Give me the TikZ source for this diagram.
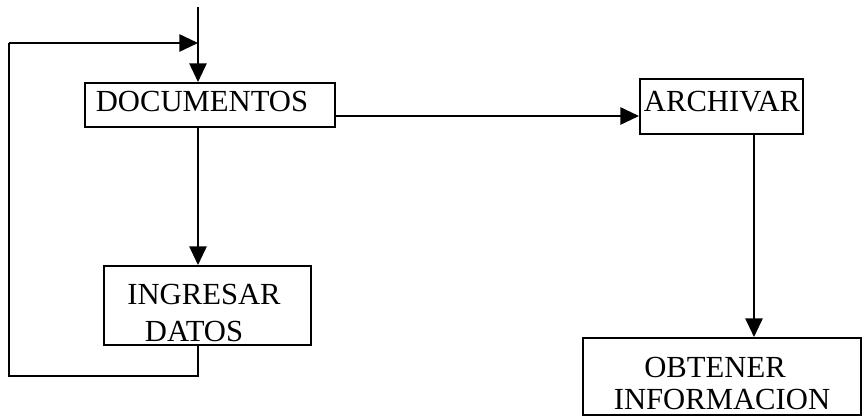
\documentclass[tikz,border=0pt]{standalone}
\usepackage{fontspec}
\setmainfont{Liberation Serif}
\usetikzlibrary{arrows.meta}
\begin{document}
\begin{tikzpicture}[x=0.75pt,y=-0.75pt,
  box/.style={draw,line width=1.6pt,rectangle,inner sep=0pt,anchor=north west},
  lbl/.style={anchor=base,inner sep=0pt,font=\fontsize{23pt}{27pt}\selectfont},
  conn/.style={line width=1.3pt},
  arr/.style={conn,-{Triangle[length=14pt,width=13pt]}}]
\useasboundingbox (0,0) rectangle (866,416);
% boxes
\node[box,minimum width=250*0.75pt,minimum height=44*0.75pt] (doc) at (84,82) {};
\node[box,minimum width=163*0.75pt,minimum height=55*0.75pt] (arch) at (639,78) {};
\node[box,minimum width=207*0.75pt,minimum height=79*0.75pt] (ing) at (103,265) {};
\node[box,minimum width=278*0.75pt,minimum height=77*0.75pt] (obt) at (582,337) {};
% labels
\node[lbl] (tdoc) at (202,112) {DOCUMENTOS};
\node[lbl] (tarch) at (722,112) {ARCHIVAR};
\node[lbl] (ting1) at (204,305) {INGRESAR};
\node[lbl] (ting2) at (194,341) {DATOS};
\node[lbl] (tobt1) at (715,377) {OBTENER};
\node[lbl] (tobt2) at (722,409) {INFORMACION};
% coordinates
\coordinate (top) at (198,7);
\coordinate (fbA) at (198,376);
\coordinate (fbB) at (9,376);
\coordinate (fbC) at (9,43);
\coordinate (fbD) at (198,43);
\coordinate (hy) at (0,116);
\coordinate (ax) at (754,0);
% connectors
\draw[arr] (top) -- (doc.north -| top);
\draw[arr] (doc.south -| top) -- (ing.north -| top);
\draw[arr] (doc.east |- hy) -- (arch.west |- hy);
\draw[arr] (arch.south -| ax) -- (obt.north -| ax);
\draw[conn] (ing.south -| fbA) -- (fbA) -- (fbB) -- (fbC);
\draw[arr] (fbC) -- (fbD);
\end{tikzpicture}
\end{document}
